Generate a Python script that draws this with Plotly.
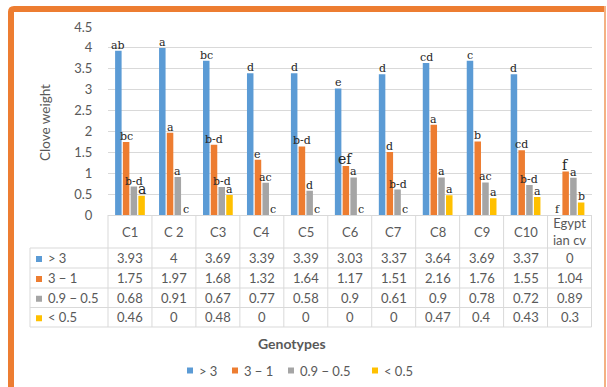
import plotly.graph_objects as go

# ---------------- data ----------------
categories = ["C1", "C 2", "C3", "C4", "C5", "C6", "C7", "C8", "C9", "C10", "Egyptian cv"]
header_labels = ["C1", "C 2", "C3", "C4", "C5", "C6", "C7", "C8", "C9", "C10", "Egypt<br>ian cv"]
series_names = ["> 3", "3 − 1", "0.9 − 0.5", "< 0.5"]
series_labels = ["&gt; 3", "3 − 1", "0.9 − 0.5", "&lt; 0.5"]

gt3 = [3.93, 4, 3.69, 3.39, 3.39, 3.03, 3.37, 3.64, 3.69, 3.37, 0]
r3_1 = [1.75, 1.97, 1.68, 1.32, 1.64, 1.17, 1.51, 2.16, 1.76, 1.55, 1.04]
r09_05 = [0.68, 0.91, 0.67, 0.77, 0.58, 0.9, 0.61, 0.9, 0.78, 0.72, 0.89]
lt05 = [0.46, 0, 0.48, 0, 0, 0, 0, 0.47, 0.4, 0.43, 0.3]

letters_gt3 = ["ab", "a", "bc", "d", "d", "e", "d", "cd", "c", "d", "f"]
letters_3_1 = ["bc", "a", "b-d", "e", "b-d", "ef", "d", "a", "b", "cd", "f"]
letters_09_05 = ["b-d", "a", "b-d", "ac", "d", "a", "b-d", "a", "ac", "b-d", "a"]
letters_lt05 = ["a", "c", "a", "c", "c", "c", "c", "a", "a", "a", "b"]

series_values = [gt3, r3_1, r09_05, lt05]
series_letters = [letters_gt3, letters_3_1, letters_09_05, letters_lt05]

# ---------------- style / layout ----------------
colors = ["#5B9BD5", "#ED7D31", "#A5A5A5", "#FFC000"]
large_letters = {(0, 3), (5, 1), (10, 1)}  # (category index, series index)
W, H = 607, 387
X0, X1 = 108, 591.5      # plot area left/right in px
Y0, Y1 = 215, 27         # y=0 and y=4.5 in px
GRID = "#d9d9d9"
TXT = "#595959"
FONT = "Lato"
BARGAP, GROUPGAP = 0.295, 0.16


def px(x):
    return x / W


def py(y):
    return 1 - y / H


fig = go.Figure()
for name, vals, col in zip(series_names, series_values, colors):
    fig.add_trace(go.Bar(x=categories, y=vals, name=name, marker_color=col,
                         marker_line_width=0, showlegend=False))

fig.update_layout(
    width=W, height=H, margin=dict(l=0, r=0, t=0, b=0, pad=0, autoexpand=False),
    paper_bgcolor="white", plot_bgcolor="white", showlegend=False,
    barmode="group", bargap=BARGAP, bargroupgap=GROUPGAP,
    xaxis=dict(domain=[px(X0), px(X1)], range=[-0.5, len(categories) - 0.5],
               showticklabels=False, showgrid=False, showline=True, automargin=False,
               linecolor=GRID, linewidth=1, ticks="", zeroline=False),
    yaxis=dict(domain=[py(Y0), py(Y1)], range=[0, 4.5], dtick=0.5, automargin=False,
               gridcolor=GRID, gridwidth=1, ticks="outside", ticklen=12,
               tickcolor="rgba(0,0,0,0)", zeroline=False, showline=False,
               tickfont=dict(family=FONT, size=13, color=TXT)),
    font=dict(family=FONT),
)

# significance letters above bars
cat_px = (X1 - X0) / len(categories)
slot_px = cat_px * (1 - BARGAP) / len(series_values)
for j, (vals, lets) in enumerate(zip(series_values, series_letters)):
    shift = (j - (len(series_values) - 1) / 2) * slot_px
    for i, (cat, v, l) in enumerate(zip(categories, vals, lets)):
        big = (i, j) in large_letters
        fig.add_annotation(x=cat, y=v, xref="x", yref="y", text=l, showarrow=False,
                           xanchor="center", yanchor="bottom", xshift=shift,
                           yshift=-3, font=dict(family="DejaVu Serif",
                                                size=14 if big else 11,
                                                color="#262626"))

# ---------------- data table ----------------
row_bounds = [248, 268, 288, 307.5, 327]
TL = 30  # table left px
line = dict(color=GRID, width=1)
for yb in row_bounds:
    fig.add_shape(type="line", xref="paper", yref="paper", x0=px(TL), x1=px(X1),
                  y0=py(yb), y1=py(yb), line=line)
fig.add_shape(type="line", xref="paper", yref="paper", x0=px(TL), x1=px(TL),
              y0=py(row_bounds[0]), y1=py(row_bounds[-1]), line=line)
for xe in (X0, X1):
    fig.add_shape(type="line", xref="paper", yref="paper", x0=px(xe), x1=px(xe),
                  y0=py(Y0), y1=py(row_bounds[-1]), line=line)
for k in range(len(categories) - 1):
    fig.add_shape(type="line", xref="x", yref="paper", x0=k + 0.5, x1=k + 0.5,
                  y0=py(Y0), y1=py(row_bounds[-1]), line=line)

for cat, lab in zip(categories, header_labels):
    fig.add_annotation(x=cat, xref="x", y=py((Y0 + row_bounds[0]) / 2), yref="paper",
                       text=lab, showarrow=False, xanchor="center", yanchor="middle",
                       font=dict(family=FONT, size=13, color=TXT))

for r, (lab, vals, col) in enumerate(zip(series_labels, series_values, colors)):
    yc = (row_bounds[r] + row_bounds[r + 1]) / 2
    fig.add_shape(type="rect", xref="paper", yref="paper", x0=px(36), x1=px(42),
                  y0=py(yc - 2), y1=py(yc + 4), fillcolor=col, line_width=0)
    fig.add_annotation(x=px(46), xref="paper", y=py(yc), yref="paper", text=lab,
                       showarrow=False, xanchor="left", yanchor="middle",
                       font=dict(family=FONT, size=13, color=TXT))
    for cat, v in zip(categories, vals):
        fig.add_annotation(x=cat, xref="x", y=py(yc), yref="paper", text=f"{v:g}",
                           showarrow=False, xanchor="center", yanchor="middle",
                           font=dict(family=FONT, size=13, color=TXT))

# axis titles
fig.add_annotation(x=px(45.5), y=py(122.5), xref="paper", yref="paper",
                   text="Clove weight", textangle=-90, showarrow=False,
                   xanchor="center", yanchor="middle",
                   font=dict(family=FONT, size=13.5, color=TXT))
fig.add_annotation(x=px(291.5), y=py(343), xref="paper", yref="paper",
                   text="<b>Genotypes</b>", showarrow=False, xanchor="center",
                   yanchor="middle", font=dict(family=FONT, size=14, color=TXT))

# legend
leg_sq = [187, 232, 288, 372]
for x_sq, lab, col in zip(leg_sq, series_labels, colors):
    fig.add_shape(type="rect", xref="paper", yref="paper", x0=px(x_sq), x1=px(x_sq + 6),
                  y0=py(373.5), y1=py(367.5), fillcolor=col, line_width=0)
    fig.add_annotation(x=px(x_sq + 10), y=py(370.5), xref="paper", yref="paper",
                       text=lab, showarrow=False, xanchor="left", yanchor="middle",
                       font=dict(family=FONT, size=13, color=TXT))

# orange frame
ORANGE = "#ED7D31"
frame = (f"M {px(8)},{py(387)} L {px(8)},{py(12)} Q {px(8)},{py(6)} {px(14)},{py(6)} "
         f"L {px(604)},{py(6)} L {px(604)},{py(12)} L {px(14)},{py(12)} L {px(14)},{py(387)} Z")
fig.add_shape(type="path", xref="paper", yref="paper", path=frame,
              fillcolor=ORANGE, line_width=0)
fig.add_shape(type="rect", xref="paper", yref="paper", x0=px(604), x1=px(606),
              y0=py(387), y1=py(6), fillcolor="#F4B183", line_width=0)

fig.write_html("out.html")
